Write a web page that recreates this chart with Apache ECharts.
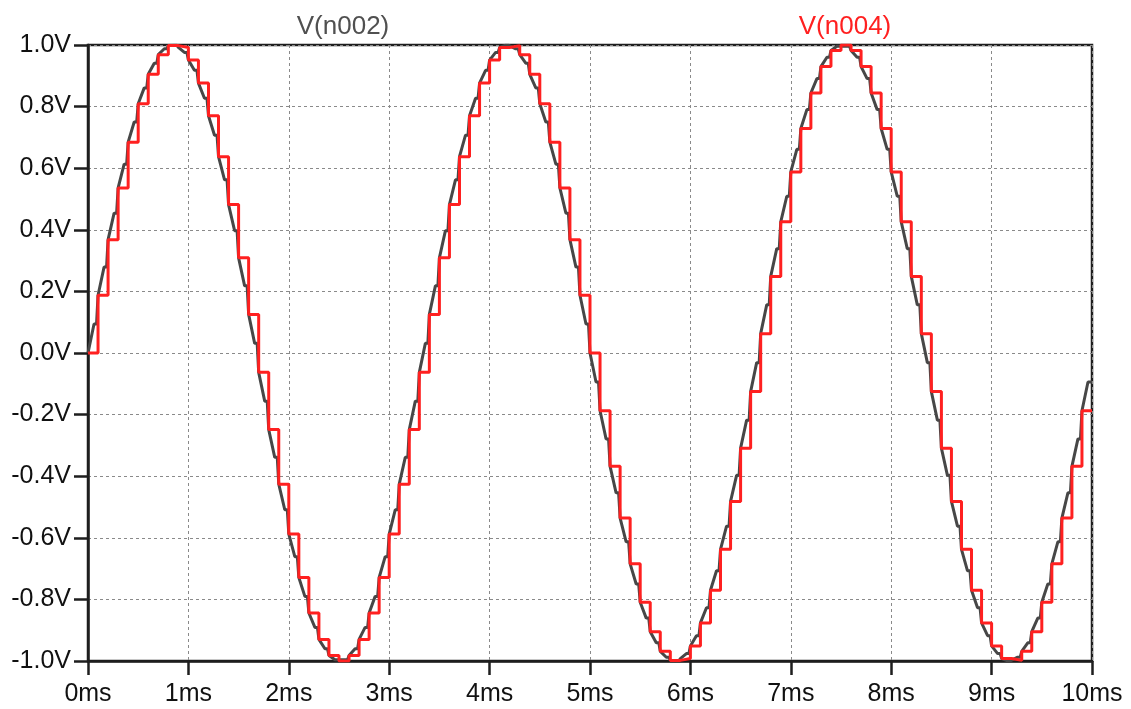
<!DOCTYPE html>
<html>
<head>
<meta charset="utf-8">
<script src="https://cdn.jsdelivr.net/npm/echarts@6/dist/echarts.min.js"></script>
<style>
  html, body { margin: 0; padding: 0; background: #ffffff; }
  #chart { width: 1131px; height: 709px; }
</style>
</head>
<body>
<div id="chart"></div>
<script>
// ---- data ----
// sample-and-hold output V(n004): one held value per 0.1 ms sample (0 .. 9.9 ms)
const heldSamples = [
  0, 0.1874, 0.3681, 0.5358, 0.6845, 0.8090, 0.9048, 0.9686, 0.9980, 0.9921,
  0.9511, 0.8763, 0.7705, 0.6374, 0.4818, 0.3090, 0.1253, -0.0628, -0.2487, -0.4258,
  -0.5878, -0.7290, -0.8443, -0.9298, -0.9823, -1.0000, -0.9823, -0.9298, -0.8443, -0.7290,
  -0.5878, -0.4258, -0.2487, -0.0628, 0.1253, 0.3090, 0.4818, 0.6374, 0.7705, 0.8763,
  0.9511, 0.9921, 0.9980, 0.9686, 0.9048, 0.8090, 0.6845, 0.5358, 0.3681, 0.1874,
  0, -0.1874, -0.3681, -0.5358, -0.6845, -0.8090, -0.9048, -0.9686, -0.9980, -0.9921,
  -0.9511, -0.8763, -0.7705, -0.6374, -0.4818, -0.3090, -0.1253, 0.0628, 0.2487, 0.4258,
  0.5878, 0.7290, 0.8443, 0.9298, 0.9823, 1.0000, 0.9823, 0.9298, 0.8443, 0.7290,
  0.5878, 0.4258, 0.2487, 0.0628, -0.1253, -0.3090, -0.4818, -0.6374, -0.7705, -0.8763,
  -0.9511, -0.9921, -0.9980, -0.9686, -0.9048, -0.8090, -0.6845, -0.5358, -0.3681, -0.1874
];
// input V(n002): value at each sample instant equals the held sample above;
// between samples the trace flattens on a short plateau at these levels
const inputPlateau = [
  0.0941, 0.2790, 0.4540, 0.6129, 0.7501, 0.8607, 0.9409, 0.9877, 0.9995, 0.9759,
  0.9178, 0.8271, 0.7071, 0.5621, 0.3971, 0.2181, 0.0314, -0.1564, -0.3387, -0.5090,
  -0.6613, -0.7902, -0.8910, -0.9603, -0.9956, -0.9956, -0.9603, -0.8910, -0.7902, -0.6613,
  -0.5090, -0.3387, -0.1564, 0.0314, 0.2181, 0.3971, 0.5621, 0.7071, 0.8271, 0.9178,
  0.9759, 0.9995, 0.9877, 0.9409, 0.8607, 0.7501, 0.6129, 0.4540, 0.2790, 0.0941,
  -0.0941, -0.2790, -0.4540, -0.6129, -0.7501, -0.8607, -0.9409, -0.9877, -0.9995, -0.9759,
  -0.9178, -0.8271, -0.7071, -0.5621, -0.3971, -0.2181, -0.0314, 0.1564, 0.3387, 0.5090,
  0.6613, 0.7902, 0.8910, 0.9603, 0.9956, 0.9956, 0.9603, 0.8910, 0.7902, 0.6613,
  0.5090, 0.3387, 0.1564, -0.0314, -0.2181, -0.3971, -0.5621, -0.7071, -0.8271, -0.9178,
  -0.9759, -0.9995, -0.9877, -0.9409, -0.8607, -0.7501, -0.6129, -0.4540, -0.2790, -0.0941
];
const seriesNames = ['V(n002)', 'V(n004)'];
const xTickLabels = ['0ms','1ms','2ms','3ms','4ms','5ms','6ms','7ms','8ms','9ms','10ms'];
const yTickLabels = ['-1.0V','-0.8V','-0.6V','-0.4V','-0.2V','0.0V','0.2V','0.4V','0.6V','0.8V','1.0V'];
const samplePeriodMs = 0.1;
const endMs = 10;

// ---- build series ----
const heldData = heldSamples.map((v, k) => [k * samplePeriodMs, v]);
heldData.push([endMs, heldSamples[heldSamples.length - 1]]);

const inputData = [];
heldSamples.forEach((v, k) => {
  const t0 = k * samplePeriodMs;
  inputData.push([t0, v]);
  inputData.push([t0 + samplePeriodMs * 0.6, inputPlateau[k]]);
  const tEnd = Math.min(t0 + samplePeriodMs * 0.85, endMs);
  inputData.push([tEnd, inputPlateau[k]]);
});
inputData.push([endMs, inputPlateau[inputPlateau.length - 1]]);

const FONT = '"Liberation Sans", Arial, sans-serif';
const AX = '#1e1e1e';
const chart = echarts.init(document.getElementById('chart'), null, { renderer: 'canvas' });
chart.setOption({
  animation: false,
  backgroundColor: '#ffffff',
  grid: { left: 88, right: 39, top: 45, bottom: 48, show: true, borderColor: AX, borderWidth: 2.5, backgroundColor: 'transparent' },
  title: [
    { text: seriesNames[0], left: 338, top: 9, textAlign: 'center',
      textStyle: { color: '#505050', fontFamily: FONT, fontSize: 26, fontWeight: 'normal' } },
    { text: seriesNames[1], left: 840, top: 9, textAlign: 'center',
      textStyle: { color: '#ff2020', fontFamily: FONT, fontSize: 26, fontWeight: 'normal' } }
  ],
  xAxis: {
    type: 'value', min: 0, max: 10, interval: 1,
    axisLine: { show: true, onZero: false, lineStyle: { color: AX, width: 2.5 } },
    axisTick: { show: true, length: 14, lineStyle: { color: AX, width: 2.5 } },
    axisLabel: { margin: 21, color: '#111111', fontFamily: FONT, fontSize: 25,
      formatter: v => xTickLabels[Math.round(v)] },
    splitLine: { show: true, lineStyle: { color: '#8a8a8a', width: 1, type: [3, 3] } }
  },
  yAxis: {
    type: 'value', min: -1, max: 1, interval: 0.2,
    axisLine: { show: true, onZero: false, lineStyle: { color: AX, width: 2.5 } },
    axisTick: { show: true, length: 14, lineStyle: { color: AX, width: 2.5 } },
    axisLabel: { margin: 17, color: '#111111', fontFamily: FONT, fontSize: 25,
      formatter: v => yTickLabels[Math.round((v + 1) / 0.2)] },
    splitLine: { show: true, lineStyle: { color: '#8a8a8a', width: 1, type: [3, 3] } }
  },
  series: [
    { name: seriesNames[0], type: 'line', data: inputData, showSymbol: false, symbol: 'none',
      lineStyle: { color: '#474747', width: 3 }, z: 2, clip: true },
    { name: seriesNames[1], type: 'line', data: heldData, step: 'end', showSymbol: false, symbol: 'none',
      lineStyle: { color: '#ff2020', width: 3 }, z: 3, clip: true }
  ]
});
</script>
</body>
</html>
